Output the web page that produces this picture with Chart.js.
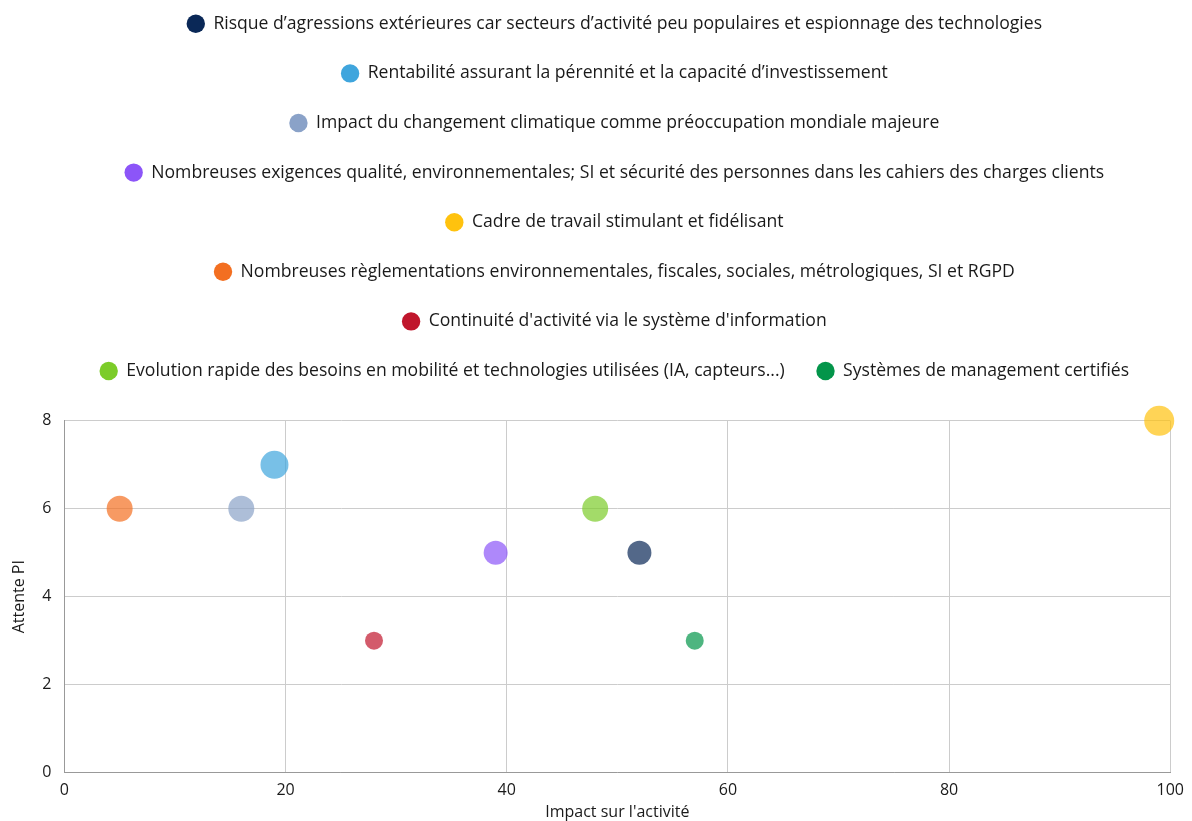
<!DOCTYPE html>
<html>
<head>
<meta charset="utf-8">
<script src="https://cdn.jsdelivr.net/npm/chart.js@4/dist/chart.umd.min.js"></script>
<style>
  body { margin: 0; background: #fff; }
  #wrap { width: 1192px; height: 821px; }
</style>
</head>
<body>
<div id="wrap"><canvas id="bubble" width="1192" height="821"></canvas></div>
<script>
// Data
var labels = [
    "Risque d\u2019agressions ext\u00e9rieures car secteurs d\u2019activit\u00e9 peu populaires et espionnage des technologies",
    "Rentabilit\u00e9 assurant la p\u00e9rennit\u00e9 et la capacit\u00e9 d\u2019investissement",
    "Impact du changement climatique comme pr\u00e9occupation mondiale majeure",
    "Nombreuses exigences qualit\u00e9, environnementales; SI et s\u00e9curit\u00e9 des personnes dans les cahiers des charges clients",
    "Cadre de travail stimulant et fid\u00e9lisant",
    "Nombreuses r\u00e8glementations environnementales, fiscales, sociales, m\u00e9trologiques, SI et RGPD",
    "Continuit\u00e9 d'activit\u00e9 via le syst\u00e8me d'information",
    "Evolution rapide des besoins en mobilit\u00e9 et technologies utilis\u00e9es (IA, capteurs...)",
    "Syst\u00e8mes de management certifi\u00e9s"
];
var impact = [52, 19, 16, 39, 99, 5, 28, 48, 57];
var attente = [5, 7, 6, 5, 8, 6, 3, 6, 3];
var radius = [12, 14, 13, 12, 15, 13, 9, 13, 9];
var colors = ['#0a2857', '#3fa5dd', '#8aa2c8', '#8c55f8', '#ffc20e', '#f36f21', '#c0162c', '#7ccc29', '#03954a'];

var xTicks = { min: 0, max: 100, step: 20 };
var yTicks = { min: 0, max: 8, step: 2 };

function fade(hex, a) {
    var n = parseInt(hex.slice(1), 16);
    return 'rgba(' + (n >> 16) + ',' + ((n >> 8) & 255) + ',' + (n & 255) + ',' + a + ')';
}

var datasets = labels.map(function (label, i) {
    return {
        label: label,
        data: [{ x: impact[i], y: attente[i], r: radius[i] }],
        backgroundColor: fade(colors[i], 0.7),
        borderColor: fade(colors[i], 0.7),
        borderWidth: 0,
        legendColor: colors[i],
        clip: false
    };
});

var fontFamily = "'Open Sans', 'Noto Sans', sans-serif";

// extra room between legend and plot, legend lines a bit right of centre
var legendGap = {
    id: 'legendGap',
    beforeInit: function (chart) {
        var fit = chart.legend.fit;
        chart.legend.fit = function () {
            fit.bind(chart.legend)();
            this.height += 31;
        };
    },
    afterLayout: function (chart) {
        chart.legend.left += 26;
        chart.legend.right += 26;
    }
};

new Chart(document.getElementById('bubble'), {
    type: 'bubble',
    data: { datasets: datasets },
    plugins: [legendGap],
    options: {
        responsive: false,
        animation: false,
        layout: { padding: { left: 4, right: 19, top: -17, bottom: -5 } },
        plugins: {
            tooltip: { enabled: false },
            legend: {
                position: 'top',
                labels: {
                    usePointStyle: true,
                    pointStyle: 'circle',
                    boxWidth: 17.6,
                    boxHeight: 13,
                    padding: 32,
                    color: '#1a1a1a',
                    font: { family: fontFamily, size: 17.6 },
                    generateLabels: function (chart) {
                        return chart.data.datasets.map(function (ds, i) {
                            return {
                                text: ds.label,
                                fillStyle: ds.legendColor,
                                strokeStyle: ds.legendColor,
                                lineWidth: 0,
                                pointStyle: 'circle',
                                fontColor: '#1a1a1a',
                                hidden: false,
                                datasetIndex: i
                            };
                        });
                    }
                }
            }
        },
        scales: {
            x: {
                type: 'linear',
                min: xTicks.min,
                max: xTicks.max,
                ticks: { stepSize: xTicks.step, padding: 8, color: '#1a1a1a', font: { family: fontFamily, size: 16 } },
                grid: { color: '#cccccc', drawTicks: false },
                border: { color: '#999999' },
                title: { display: true, text: "Impact sur l'activit\u00e9", color: '#1a1a1a', font: { family: fontFamily, size: 16 }, padding: { top: -5, bottom: 4 } }
            },
            y: {
                type: 'linear',
                min: yTicks.min,
                max: yTicks.max,
                ticks: { stepSize: yTicks.step, padding: 13, color: '#1a1a1a', font: { family: fontFamily, size: 16 } },
                grid: { color: '#cccccc', drawTicks: false },
                border: { color: '#999999' },
                title: { display: true, text: 'Attente PI', color: '#1a1a1a', font: { family: fontFamily, size: 16 }, padding: { top: 6, bottom: 0 } }
            }
        }
    }
});
</script>
</body>
</html>
